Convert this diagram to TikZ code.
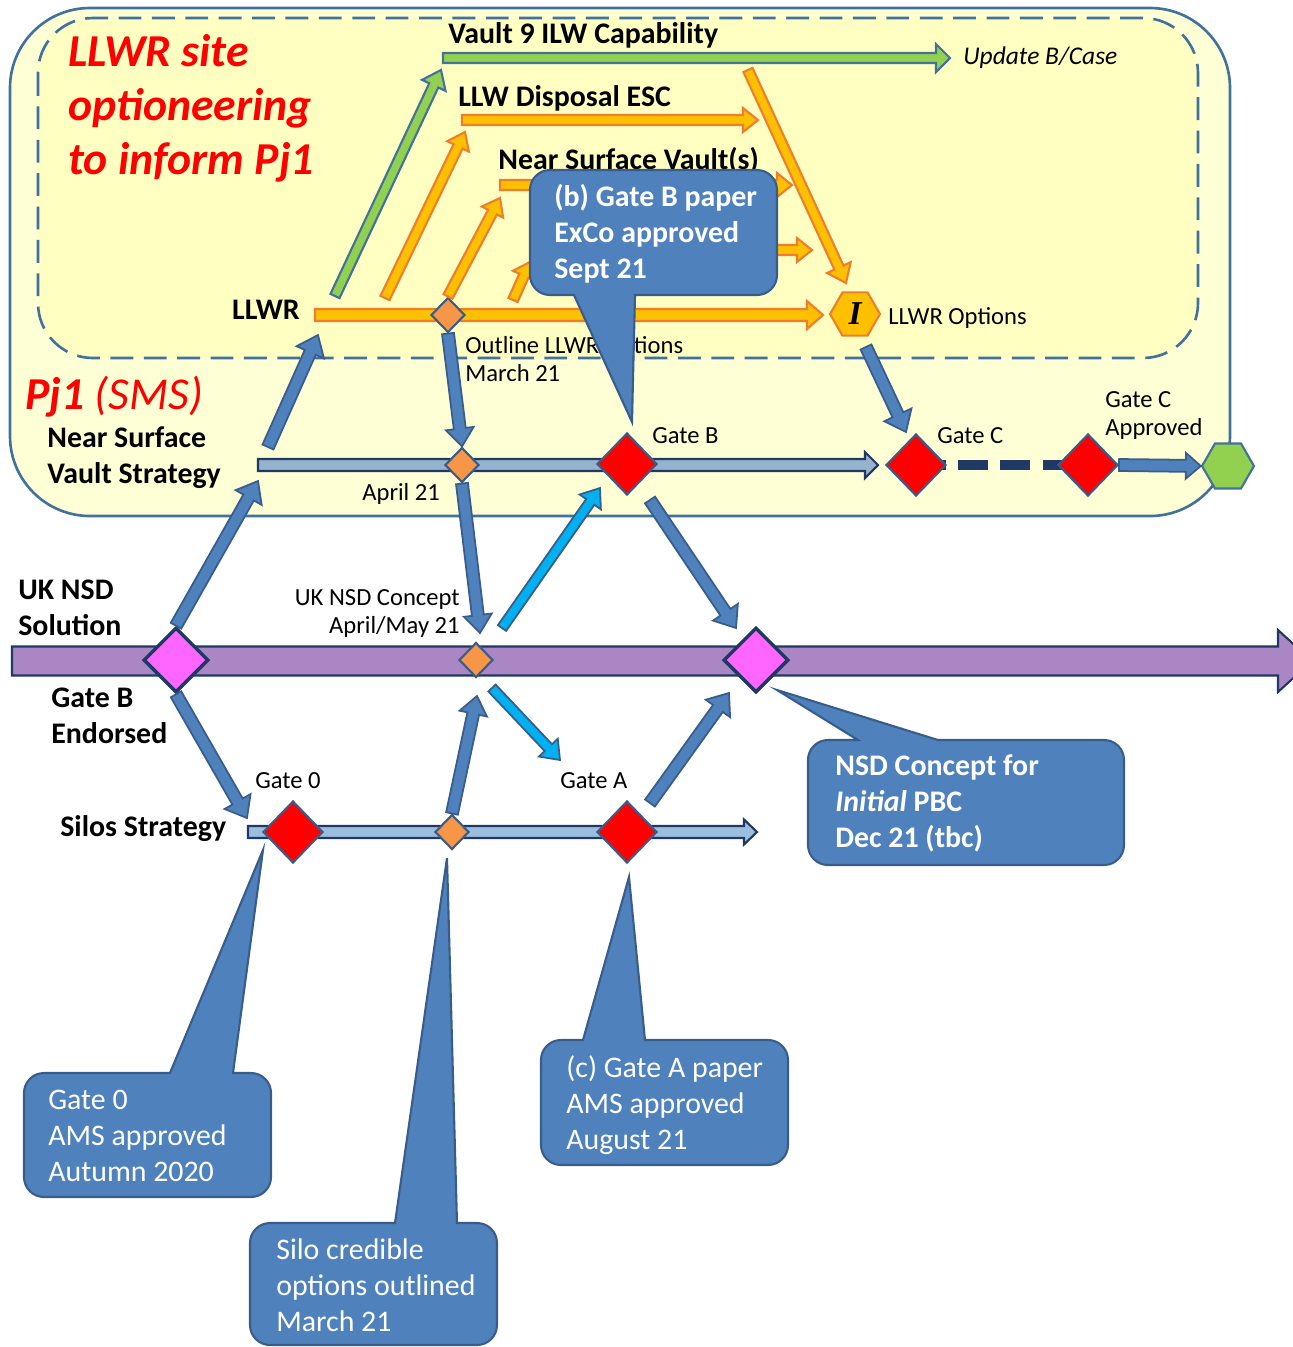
\documentclass[tikz,border=0pt]{standalone}
\usepackage{fontspec}
\setmainfont{Carlito}
\newfontfamily\hexfont{Liberation Serif}
\usetikzlibrary{arrows.meta, shapes.geometric, calc}
\definecolor{boxblue}{RGB}{65,113,156}
\definecolor{navy}{RGB}{31,56,100}
\definecolor{callblue}{RGB}{79,129,189}
\definecolor{callline}{RGB}{56,93,138}
\definecolor{myorange}{RGB}{237,125,49}
\definecolor{mygold}{RGB}{255,192,0}
\definecolor{mygreen}{RGB}{146,208,80}
\definecolor{mycyan}{RGB}{0,176,240}
\definecolor{mypurple}{RGB}{170,135,196}
\definecolor{mypink}{RGB}{255,102,255}
\definecolor{diamorange}{RGB}{247,150,70}
\definecolor{steel}{RGB}{149,179,204}
\definecolor{silo}{RGB}{155,190,222}
\definecolor{paleyellow}{RGB}{255,255,214}
\definecolor{lightyellow}{RGB}{255,255,194}

% block arrow: style, from, to, half shaft, half head, head length
\newcommand{\blockarrow}[6]{%
  \coordinate (bk) at ($(#3)!#6!(#2)$);
  \filldraw[#1] ($(#2)!#4!90:(#3)$) -- ($(bk)!#4!-90:(#2)$) -- ($(bk)!#5!-90:(#2)$) -- (#3)
    -- ($(bk)!#5!90:(#2)$) -- ($(bk)!#4!90:(#2)$) -- ($(#2)!#4!-90:(#3)$) -- cycle;
}

\begin{document}
\begin{tikzpicture}[x=0.02cm, y=-0.02cm, line join=miter,
    lab/.style={font=\fontsize{17}{20.4}\selectfont\bfseries, align=left, inner sep=0pt},
    sml/.style={font=\fontsize{14}{15.9}\selectfont, align=left, inner sep=0pt},
    ttl/.style={font=\fontsize{26}{30.6}\selectfont\bfseries\itshape, text=red, align=left, inner sep=0pt},
    calltext/.style={font=\fontsize{17}{20.4}\selectfont, text=white, align=left, inner sep=0pt},
    callout/.style={fill=callblue, draw=callline, line width=1.2pt},
    bluearr/.style={fill=callblue, draw=callline, line width=1pt},
    cyanarr/.style={fill=mycyan, draw=callline, line width=1pt},
    goldarr/.style={fill=mygold, draw=myorange, line width=1.2pt},
    greenarr/.style={fill=mygreen, draw=boxblue, line width=1.2pt},
    stratbar/.style={fill=steel, draw=navy, line width=1.2pt},
    silobar/.style={fill=silo, draw=navy, line width=1.2pt},
    nsdbar/.style={fill=mypurple, draw=navy, line width=1.2pt},
    gate/.style={diamond, fill=red, draw=callline, line width=1.2pt, minimum width=1.2cm, minimum height=1.24cm, inner sep=0pt},
    endorsed/.style={diamond, fill=mypink, draw=navy, line width=2pt, minimum width=1.3cm, minimum height=1.3cm, inner sep=0pt},
    milestone/.style={diamond, fill=diamorange, draw=callline, line width=1.2pt, minimum width=0.68cm, minimum height=0.7cm, inner sep=0pt},
    hexnode/.style={regular polygon, regular polygon sides=6, minimum size=1cm, inner sep=0pt, line width=1.2pt}]
  \useasboundingbox (0,0) rectangle (1293,1347);

  % project boxes
  \draw[boxblue, line width=1.5pt, fill=paleyellow, rounded corners=1.6cm] (10,8) rectangle (1230,516);
  \draw[boxblue, line width=1.5pt, dash pattern=on 13pt off 6pt, fill=lightyellow, rounded corners=1.1cm] (38,18) rectangle (1198,358);

  % timeline ends
  \coordinate (vaultL) at (443,58);  \coordinate (vaultR) at (950,58);
  \coordinate (escL) at (462,120);   \coordinate (escR) at (758,120);
  \coordinate (nsvL) at (500,185);   \coordinate (nsvR) at (792,185);
  \coordinate (optL) at (545,250);   \coordinate (optR) at (812,250);
  \coordinate (llwrL) at (315,315);  \coordinate (llwrR) at (823,315);
  \coordinate (stratL) at (258,465); \coordinate (stratR) at (878,465);
  \coordinate (nsdL) at (12,661);    \coordinate (nsdR) at (1312,661);
  \coordinate (siloL) at (248,832);  \coordinate (siloR) at (757,832);

  % arrow ends
  \coordinate (toStrat) at (258,481);
  \coordinate (fromStrat) at (268,447);
  \coordinate (toLLWR) at (318,335);
  \coordinate (toSilo) at (247,818);
  \coordinate (toConcept) at (480,633);
  \coordinate (fromGateB) at (650,500);
  \coordinate (toPBC) at (736,628);
  \coordinate (fromHex) at (866,347);
  \coordinate (toGateC) at (906,432);
  \coordinate (upConcept) at (477,696);
  \coordinate (fromGateA) at (650,803);
  \coordinate (upPBC) at (729,693);
  \coordinate (fromConcept) at (502,628);
  \coordinate (toGateB) at (600,488);
  \coordinate (downConcept) at (492,688);
  \coordinate (toGateA) at (560,760);
  \coordinate (fromLLWR) at (335,296);
  \coordinate (toVault) at (441,70);
  \coordinate (riseA) at (385,298);  \coordinate (toESC) at (465,132);
  \coordinate (toNSV) at (500,198);
  \coordinate (riseC) at (513,300);  \coordinate (toOpt) at (530,262);
  \coordinate (fromVault) at (748,70); \coordinate (toHex) at (846,283);

  % bars
  \blockarrow{greenarr}{vaultL}{vaultR}{0.1cm}{0.28cm}{0.28cm}
  \blockarrow{goldarr}{escL}{escR}{0.1cm}{0.24cm}{0.3cm}
  \blockarrow{goldarr}{nsvL}{nsvR}{0.1cm}{0.24cm}{0.3cm}
  \blockarrow{goldarr}{optL}{optR}{0.1cm}{0.24cm}{0.3cm}
  \blockarrow{goldarr}{llwrL}{llwrR}{0.12cm}{0.28cm}{0.32cm}
  \blockarrow{stratbar}{stratL}{stratR}{0.12cm}{0.26cm}{0.26cm}
  \blockarrow{nsdbar}{nsdL}{nsdR}{0.29cm}{0.62cm}{0.68cm}
  \blockarrow{silobar}{siloL}{siloR}{0.12cm}{0.25cm}{0.26cm}

  % gates and milestones
  \node[milestone] (outline) at (448,315) {};
  \node[hexnode, fill=mygold, draw=myorange] (hexI) at (855,314) {\hexfont\fontsize{19}{19}\selectfont\bfseries\itshape I};
  \node[milestone] (april) at (462,465) {};
  \node[gate] (gateB) at (627,464) {};
  \coordinate (gateCpos) at (916,465);
  \coordinate (gateCApos) at (1088,465);
  \draw[navy, line width=5.5pt, dash pattern=on 17pt off 7pt] (gateCpos) -- (gateCApos);
  \node[gate] (gateC) at (gateCpos) {};
  \node[gate] (gateCA) at (gateCApos) {};
  \node[hexnode, fill=mygreen, draw=boxblue, minimum size=1.04cm] (hexG) at (1228,466) {};
  \node[endorsed] (endorse) at (176,660) {};
  \node[milestone] (concept) at (476,660) {};
  \node[endorsed] (pbc) at (756,660) {};
  \node[gate] (gate0) at (293,832) {};
  \node[milestone] (silomile) at (452,832) {};
  \node[gate] (gateA) at (627,832) {};

  % links
  \blockarrow{greenarr}{fromLLWR}{toVault}{0.1cm}{0.26cm}{0.34cm}
  \blockarrow{goldarr}{riseA}{toESC}{0.1cm}{0.24cm}{0.32cm}
  \blockarrow{goldarr}{outline.north}{toNSV}{0.1cm}{0.24cm}{0.32cm}
  \blockarrow{goldarr}{riseC}{toOpt}{0.1cm}{0.24cm}{0.3cm}
  \blockarrow{goldarr}{fromVault}{toHex}{0.1cm}{0.26cm}{0.34cm}
  \blockarrow{bluearr}{endorse.north}{toStrat}{0.12cm}{0.3cm}{0.38cm}
  \blockarrow{bluearr}{fromStrat}{toLLWR}{0.12cm}{0.3cm}{0.38cm}
  \blockarrow{bluearr}{endorse.south}{toSilo}{0.12cm}{0.3cm}{0.38cm}
  \blockarrow{bluearr}{outline.south}{april.north}{0.12cm}{0.28cm}{0.36cm}
  \blockarrow{bluearr}{april.south}{toConcept}{0.12cm}{0.28cm}{0.36cm}
  \blockarrow{bluearr}{fromGateB}{toPBC}{0.12cm}{0.3cm}{0.38cm}
  \blockarrow{bluearr}{fromHex}{toGateC}{0.12cm}{0.3cm}{0.38cm}
  \blockarrow{bluearr}{silomile.north}{upConcept}{0.12cm}{0.28cm}{0.36cm}
  \blockarrow{bluearr}{fromGateA}{upPBC}{0.12cm}{0.3cm}{0.38cm}
  \blockarrow{bluearr}{gateCA.east}{hexG.west}{0.12cm}{0.26cm}{0.3cm}
  \blockarrow{cyanarr}{fromConcept}{toGateB}{0.1cm}{0.26cm}{0.34cm}
  \blockarrow{cyanarr}{downConcept}{toGateA}{0.1cm}{0.26cm}{0.34cm}

  % labels (base = last line)
  \node[ttl, anchor=base west] (title) at (68,174) {LLWR site\\optioneering\\to inform Pj1};
  \node[ttl, anchor=base west] (pj1) at (25,409) {Pj1 \mdseries(SMS)};
  \node[lab, anchor=base west] (vaultlab) at (448,43) {Vault 9 ILW Capability};
  \node[sml, anchor=base west, font=\fontsize{14.5}{16}\selectfont\itshape] (updlab) at (963,64) {Update B/Case};
  \node[lab, anchor=base west] (esclab) at (458,106) {LLW Disposal ESC};
  \node[lab, anchor=base west] (nsvlab) at (498,169) {Near Surface Vault(s)};
  \node[lab, anchor=base east] (llwrlab) at (300,319) {LLWR};
  \node[sml, anchor=base west] (optlab) at (888,324) {LLWR Options};
  \node[sml, anchor=base west] (outlab) at (465,381) {Outline LLWR Options\\March 21};
  \node[lab, anchor=base west] (stratlab) at (47,483) {Near Surface\\Vault Strategy};
  \node[sml, anchor=base west] (aprlab) at (362,500) {April 21};
  \node[sml, anchor=base west] (gateBlab) at (652,443) {Gate B};
  \node[sml, anchor=base west] (gateClab) at (937,443) {Gate C};
  \node[sml, anchor=base west] (gateCAlab) at (1105,435) {Gate C\\Approved};
  \node[lab, anchor=base west] (nsdlab) at (18,635) {UK NSD\\Solution};
  \node[sml, anchor=base east, align=right] (conlab) at (460,633) {UK NSD Concept\\April/May 21};
  \node[lab, anchor=base west] (endlab) at (51,743) {Gate B\\Endorsed};
  \node[sml, anchor=base west] (gate0lab) at (255,788) {Gate 0};
  \node[sml, anchor=base west] (gateAlab) at (560,788) {Gate A};
  \node[lab, anchor=base west] (silolab) at (60,836) {Silos Strategy};

  % callouts
  \coordinate (tipB) at (632,422);
  \coordinate (tipN) at (777,690);
  \coordinate (tip0) at (263,850);
  \coordinate (tipS) at (447,858);
  \coordinate (tipA) at (629,877);
  \draw[callout] (530,232) [rounded corners=0.4cm] -- (530,170) -- (777,170) -- (777,295) [sharp corners]
    -- (635,295) -- (tipB) -- (574,295) [rounded corners=0.4cm] -- (530,295) -- cycle;
  \draw[callout] (808,802) [rounded corners=0.4cm] -- (808,740) [sharp corners] -- (858,740) -- (tipN)
    -- (938,740) [rounded corners=0.4cm] -- (1124,740) -- (1124,865) -- (808,865) -- cycle;
  \draw[callout] (24,1135) [rounded corners=0.4cm] -- (24,1073) [sharp corners] -- (170,1073) -- (tip0)
    -- (233,1073) [rounded corners=0.4cm] -- (271,1073) -- (271,1197) -- (24,1197) -- cycle;
  \draw[callout] (250,1284) [rounded corners=0.4cm] -- (250,1223) [sharp corners] -- (395,1223) -- (tipS)
    -- (457,1223) [rounded corners=0.4cm] -- (497,1223) -- (497,1345) -- (250,1345) -- cycle;
  \draw[callout] (541,1102) [rounded corners=0.4cm] -- (541,1040) [sharp corners] -- (583,1040) -- (tipA)
    -- (645,1040) [rounded corners=0.4cm] -- (788,1040) -- (788,1165) -- (541,1165) -- cycle;
  \node[calltext, anchor=base west, font=\fontsize{17}{20.4}\selectfont\bfseries] (gateBnote) at (554,278) {(b) Gate B paper\\ExCo approved\\Sept 21};
  \node[calltext, anchor=base west, font=\fontsize{17}{20.4}\selectfont\bfseries] (pbcnote) at (835,847) {NSD Concept for\\\textit{Initial} PBC\\Dec 21 (tbc)};
  \node[calltext, anchor=base west] (gate0note) at (48,1181) {Gate 0\\AMS approved\\Autumn 2020};
  \node[calltext, anchor=base west] (silonote) at (276,1331) {Silo credible\\options outlined\\March 21};
  \node[calltext, anchor=base west] (gateAnote) at (566,1149) {(c) Gate A paper\\AMS approved\\August 21};
\end{tikzpicture}
\end{document}
